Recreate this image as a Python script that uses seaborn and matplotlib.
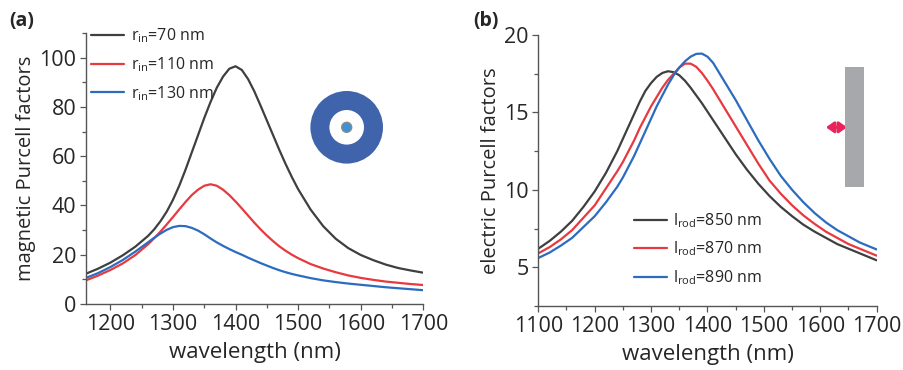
import numpy as np
import pandas as pd
import seaborn as sns
import matplotlib
matplotlib.use("Agg")
import matplotlib.pyplot as plt
from matplotlib.patches import Circle, Rectangle
from matplotlib.ticker import MultipleLocator

# ---------------- data: panel (a) ----------------
wl_a = [1160, 1180, 1200, 1220, 1240, 1260, 1270, 1280, 1290, 1300, 1310, 1320, 1330, 1340,
        1350, 1360, 1370, 1380, 1390, 1400, 1410, 1420, 1430, 1440, 1450, 1460, 1470, 1480,
        1490, 1500, 1520, 1540, 1560, 1580, 1600, 1620, 1640, 1660, 1680, 1700]
mag_rin70 = [12.2, 14.3, 16.8, 19.8, 23.3, 27.6, 30.3, 33.6, 37.5, 42.3, 48.0, 54.5, 61.5, 68.5,
             75.5, 82.0, 87.8, 92.3, 95.5, 96.5, 95.0, 91.3, 86.3, 80.5, 74.5, 68.5, 62.5, 56.8,
             51.5, 46.6, 38.3, 31.6, 26.5, 22.7, 19.9, 17.8, 16.0, 14.6, 13.6, 12.7]
mag_rin110 = [9.5, 11.5, 13.8, 16.5, 19.9, 24.2, 26.7, 29.4, 32.3, 35.3, 38.4, 41.4, 44.2, 46.4,
              48.0, 48.6, 48.0, 46.4, 44.2, 41.6, 38.8, 35.9, 33.0, 30.3, 27.8, 25.5, 23.4, 21.6,
              20.0, 18.6, 16.2, 14.4, 12.9, 11.6, 10.6, 9.8, 9.1, 8.6, 8.1, 7.7]
mag_rin130 = [10.5, 12.5, 15.0, 17.9, 21.3, 25.0, 26.9, 28.6, 30.1, 31.2, 31.7, 31.6, 30.9, 29.8,
              28.3, 26.6, 25.0, 23.6, 22.3, 21.1, 20.0, 18.8, 17.7, 16.6, 15.6, 14.6, 13.7, 12.9,
              12.2, 11.6, 10.5, 9.6, 8.9, 8.3, 7.8, 7.3, 6.8, 6.4, 6.0, 5.6]
labels_a = [r"r$_\mathregular{in}$=70 nm", r"r$_\mathregular{in}$=110 nm", r"r$_\mathregular{in}$=130 nm"]

# ---------------- data: panel (b) ----------------
wl_b = [1100, 1120, 1140, 1160, 1180, 1200, 1220, 1240, 1250, 1260, 1270, 1280, 1290, 1300,
        1310, 1320, 1330, 1340, 1350, 1360, 1370, 1380, 1390, 1400, 1410, 1420, 1430, 1440,
        1450, 1470, 1490, 1510, 1530, 1550, 1570, 1590, 1610, 1630, 1650, 1670, 1690, 1700]
ele_l850 = [6.2, 6.7, 7.3, 8.0, 8.9, 9.9, 11.1, 12.5, 13.3, 14.1, 14.9, 15.7, 16.4, 16.9,
            17.3, 17.55, 17.66, 17.6, 17.4, 17.05, 16.6, 16.1, 15.6, 15.05, 14.5, 13.95, 13.4, 12.85,
            12.3, 11.3, 10.4, 9.6, 8.9, 8.3, 7.75, 7.3, 6.9, 6.5, 6.2, 5.9, 5.6, 5.45]
ele_l870 = [5.9, 6.3, 6.8, 7.4, 8.2, 9.0, 10.1, 11.2, 11.8, 12.5, 13.2, 14.0, 14.7, 15.4,
            16.0, 16.6, 17.1, 17.5, 17.9, 18.15, 18.15, 17.95, 17.55, 17.05, 16.5, 15.9, 15.3, 14.7,
            14.1, 12.9, 11.7, 10.6, 9.75, 9.0, 8.35, 7.8, 7.3, 6.9, 6.5, 6.2, 5.9, 5.75]
ele_l890 = [5.6, 5.95, 6.4, 6.9, 7.6, 8.3, 9.2, 10.2, 10.8, 11.5, 12.2, 13.0, 13.8, 14.6,
            15.4, 16.1, 16.8, 17.4, 17.9, 18.3, 18.6, 18.78, 18.8, 18.6, 18.2, 17.6, 17.0, 16.4,
            15.8, 14.5, 13.2, 12.0, 10.9, 10.0, 9.2, 8.5, 7.9, 7.4, 7.0, 6.6, 6.3, 6.15]
labels_b = [r"l$_\mathregular{rod}$=850 nm", r"l$_\mathregular{rod}$=870 nm", r"l$_\mathregular{rod}$=890 nm"]

colors = ["#3f3f3f", "#e8393f", "#2b6cbf"]

sns.set_theme(style="white")
plt.rcParams["font.family"] = ["Open Sans", "DejaVu Sans"]
plt.rcParams["mathtext.fontset"] = "custom"
plt.rcParams["mathtext.rm"] = "Open Sans"

df_a = pd.DataFrame({
    "wl": wl_a * 3,
    "val": mag_rin70 + mag_rin110 + mag_rin130,
    "series": [labels_a[0]] * len(wl_a) + [labels_a[1]] * len(wl_a) + [labels_a[2]] * len(wl_a),
})
df_b = pd.DataFrame({
    "wl": wl_b * 3,
    "val": ele_l850 + ele_l870 + ele_l890,
    "series": [labels_b[0]] * len(wl_b) + [labels_b[1]] * len(wl_b) + [labels_b[2]] * len(wl_b),
})

fig = plt.figure(figsize=(9.04, 3.70), dpi=100)
ax1 = fig.add_axes([86 / 904, 66 / 370, 337.3 / 904, 271 / 370])
ax2 = fig.add_axes([538.3 / 904, 64 / 370, 338.4 / 904, 271 / 370])

sns.lineplot(data=df_a, x="wl", y="val", hue="series", palette=colors, hue_order=labels_a,
             linewidth=1.6, ax=ax1)
sns.lineplot(data=df_b, x="wl", y="val", hue="series", palette=colors, hue_order=labels_b,
             linewidth=1.6, ax=ax2)

spine_col = "#555555"
for ax in (ax1, ax2):
    for s in ("top", "right"):
        ax.spines[s].set_visible(False)
    for s in ("left", "bottom"):
        ax.spines[s].set_color(spine_col)
        ax.spines[s].set_linewidth(1.0)
    ax.tick_params(axis="both", which="major", direction="out", length=4, width=0.9,
                   color=spine_col, labelsize=15.5, pad=3, left=True, bottom=True)
    ax.tick_params(axis="both", which="minor", direction="out", length=3, width=0.9,
                   color=spine_col, left=True, bottom=True)
    ax.set_xlabel("wavelength (nm)", fontsize=16, labelpad=5)

ax1.set_xlim(1161, 1700)
ax1.set_ylim(0, 110)
ax1.xaxis.set_major_locator(MultipleLocator(100))
ax1.xaxis.set_minor_locator(MultipleLocator(50))
ax1.yaxis.set_major_locator(MultipleLocator(20))
ax1.yaxis.set_minor_locator(MultipleLocator(10))
ax1.set_ylabel("magnetic Purcell factors", fontsize=14.5, labelpad=2)

ax2.set_xlim(1100, 1700)
ax2.set_ylim(2.5, 20)
ax2.xaxis.set_major_locator(MultipleLocator(100))
ax2.xaxis.set_minor_locator(MultipleLocator(50))
ax2.yaxis.set_major_locator(MultipleLocator(5))
ax2.yaxis.set_minor_locator(MultipleLocator(2.5))
ax2.set_ylabel("electric Purcell factors", fontsize=14.5, labelpad=2)

leg_kw = dict(frameon=False, fontsize=11.5, handlelength=2.1, handletextpad=0.4,
              labelspacing=0.62, borderaxespad=0, borderpad=0.2)
ax1.legend(loc="upper left", bbox_to_anchor=(0.005, 1.035), **leg_kw)
ax2.legend(loc="upper left", bbox_to_anchor=(0.272, 0.362), **leg_kw)

fig.text(9 / 904, 1 - 21 / 370, "(a)", fontsize=14, fontweight="bold", va="center", ha="left")
fig.text(473 / 904, 1 - 21 / 370, "(b)", fontsize=14, fontweight="bold", va="center", ha="left")

# inset sketch (a): ring
cx, cy, half = 346.7, 127.3, 40
axi = fig.add_axes([(cx - half) / 904, (370 - cy - half) / 370, 2 * half / 904, 2 * half / 370])
axi.set_xlim(-half, half)
axi.set_ylim(-half, half)
axi.set_aspect("equal")
axi.axis("off")
axi.add_patch(Circle((0, 0), 36.3, color="#4064ab", lw=0))
axi.add_patch(Circle((0, 0), 17.3, color="white", lw=0))
axi.add_patch(Circle((0, 0), 5.0, facecolor="#3b93d3", edgecolor="#8a8a8a", lw=1.0))

# inset sketch (b): rod with dipole arrow
fig.patches.append(Rectangle((845 / 904, (370 - 186.7) / 370), 19 / 904, 120 / 370,
                             transform=fig.transFigure, facecolor="#a7a8ab", edgecolor="none"))
ay = (370 - 127.3) / 370
ax2.annotate("", xy=(847 / 904, ay), xytext=(826 / 904, ay), xycoords="figure fraction",
             textcoords="figure fraction",
             arrowprops=dict(arrowstyle="<|-|>,head_length=0.45,head_width=0.32", color="#e8245a",
                             lw=2.2, mutation_scale=10, shrinkA=0, shrinkB=0))

fig.savefig("out.png", dpi=100)
